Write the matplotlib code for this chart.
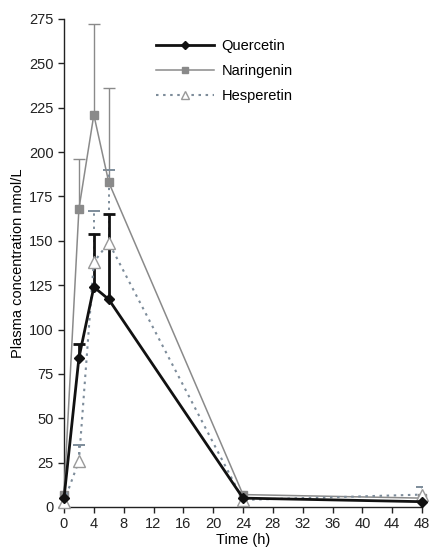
import matplotlib
matplotlib.use("Agg")
import matplotlib.pyplot as plt

plt.rcParams['font.family'] = ['Liberation Sans', 'DejaVu Sans']

time_h = [0, 2, 4, 6, 24, 48]

quercetin = [5, 84, 124, 117, 5, 3]
quercetin_err = [0, 8, 30, 48, 0, 0]

naringenin = [7, 168, 221, 183, 7, 5]
naringenin_err = [0, 28, 51, 53, 0, 0]

hesperetin = [3, 26, 138, 149, 4, 7]
hesperetin_err = [0, 9, 29, 41, 0, 4]

x_ticks = list(range(0, 49, 4))
y_ticks = list(range(0, 276, 25))

fig = plt.figure(figsize=(4.33, 5.53), dpi=100)
ax = fig.add_axes([64 / 433, 46 / 553, 358 / 433, 488 / 553])

q_col = "#111111"
n_col = "#8a8a8a"
h_col = "#7d8c9a"
dots = (0, (1.2, 2.2))


def upper_bars(x, y, err, color, lw, ls, z):
    """Draw one-sided (upper) SD bars with a cap on top."""
    xs = [xi for xi, e in zip(x, err) if e > 0]
    lo = [yi for yi, e in zip(y, err) if e > 0]
    hi = [yi + e for yi, e in zip(y, err) if e > 0]
    ax.vlines(xs, lo, hi, colors=color, linewidth=lw, linestyles=ls, zorder=z)
    ax.plot(xs, hi, ls="none", marker="_", ms=9, mew=lw, color=color, zorder=z)


upper_bars(time_h, naringenin, naringenin_err, n_col, 1.0, "solid", 2)
upper_bars(time_h, hesperetin, hesperetin_err, h_col, 1.4, dots, 2)
upper_bars(time_h, quercetin, quercetin_err, q_col, 2.0, "solid", 2)

ax.plot(time_h, naringenin, color=n_col, lw=1.1, marker="s", ms=6,
        mfc=n_col, mec=n_col, label="Naringenin", clip_on=False, zorder=3)
ax.plot(time_h, hesperetin, color=h_col, lw=1.5, ls=dots, marker="^", ms=8,
        mfc="white", mec="#999999", label="Hesperetin", clip_on=False, zorder=4)
ax.plot(time_h, quercetin, color=q_col, lw=2.0, marker="D", ms=5,
        mfc=q_col, mec=q_col, label="Quercetin", clip_on=False, zorder=5)

ax.set_xlim(0, 48)
ax.set_ylim(0, 275)
ax.set_xticks(x_ticks)
ax.set_yticks(y_ticks)
ax.tick_params(direction="out", length=4, width=1.0, labelsize=10.5, colors="#222222")
for side in ("top", "right"):
    ax.spines[side].set_visible(False)
for side in ("left", "bottom"):
    ax.spines[side].set_linewidth(1.0)
    ax.spines[side].set_color("#222222")

ax.set_xlabel("Time (h)", fontsize=10.5, labelpad=1)
ax.set_ylabel("Plasma concentration nmol/L", fontsize=10.5, labelpad=3)

handles, labels = ax.get_legend_handles_labels()
order = [labels.index(n) for n in ("Quercetin", "Naringenin", "Hesperetin")]
ax.legend([handles[i] for i in order], [labels[i] for i in order],
          loc="upper left", bbox_to_anchor=(0.22, 0.985), frameon=False,
          fontsize=10.5, handlelength=4.0, handletextpad=0.5, labelspacing=0.75,
          markerscale=0.8)

fig.savefig("out.png", dpi=100)
